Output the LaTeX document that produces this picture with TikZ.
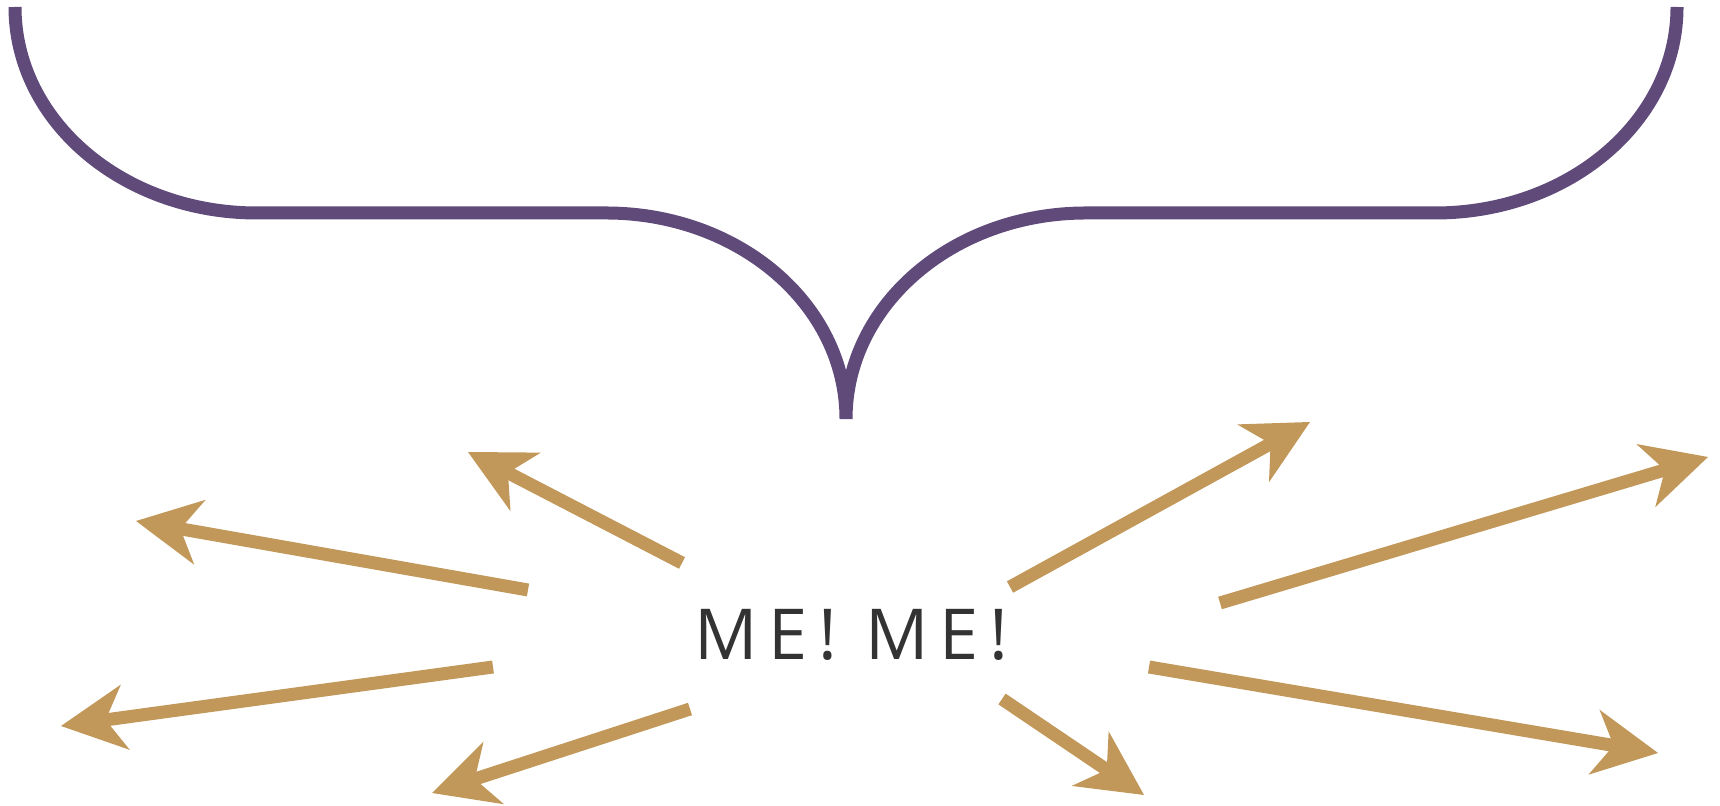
\documentclass[tikz,border=0pt]{standalone}
\usepackage{fontspec}
\newfontfamily\mefont[LetterSpace=15]{Open Sans}
\usetikzlibrary{arrows.meta}
\definecolor{BracePurple}{RGB}{95,74,122}
\definecolor{BurstTan}{RGB}{194,152,90}
\definecolor{MeGrey}{RGB}{51,51,51}
\tikzset{brace/.style={draw=BracePurple,line width=1.3mm}, burst/.style={draw=BurstTan,line width=1.3mm,-{Stealth[length=6.5mm,width=6.6mm,inset=2mm,line width=0pt]}}, shout/.style={font=\mefont\fontsize{20}{24}\selectfont,text=MeGrey,inner sep=0pt}}

\begin{document}
\begin{tikzpicture}[x=0.1mm,y=-0.1mm]
\useasboundingbox (0,0) rectangle (1720,806);
% the brace over the whole width
\draw[brace] (15,7) .. controls (15,121) and (123,213) .. (257,213) -- (606,213) .. controls (739,213) and (846,305) .. (846,419) .. controls (846,305) and (953,213) .. (1086,213) -- (1435,213) .. controls (1569,213) and (1677,121) .. (1677,7);
\node[shout,anchor=west] (me) at (694,635) {ME! ME!};
% tails and tips of the arrows
\coordinate (ta) at (682,563);
\coordinate (ha) at (468,452);
\coordinate (tb) at (528,590);
\coordinate (hb) at (136,521);
\coordinate (tc) at (493,667);
\coordinate (hc) at (61,726);
\coordinate (td) at (690,709);
\coordinate (hd) at (432,793);
\coordinate (te) at (1010,587);
\coordinate (he) at (1310,422);
\coordinate (tf) at (1220,603);
\coordinate (hf) at (1708,457);
\coordinate (tg) at (1149,667);
\coordinate (hg) at (1658,753);
\coordinate (th) at (1002,699);
\coordinate (hh) at (1144,795);
\draw[burst] (ta) -- (ha);
\draw[burst] (tb) -- (hb);
\draw[burst] (tc) -- (hc);
\draw[burst] (td) -- (hd);
\draw[burst] (te) -- (he);
\draw[burst] (tf) -- (hf);
\draw[burst] (tg) -- (hg);
\draw[burst] (th) -- (hh);
\end{tikzpicture}
\end{document}
